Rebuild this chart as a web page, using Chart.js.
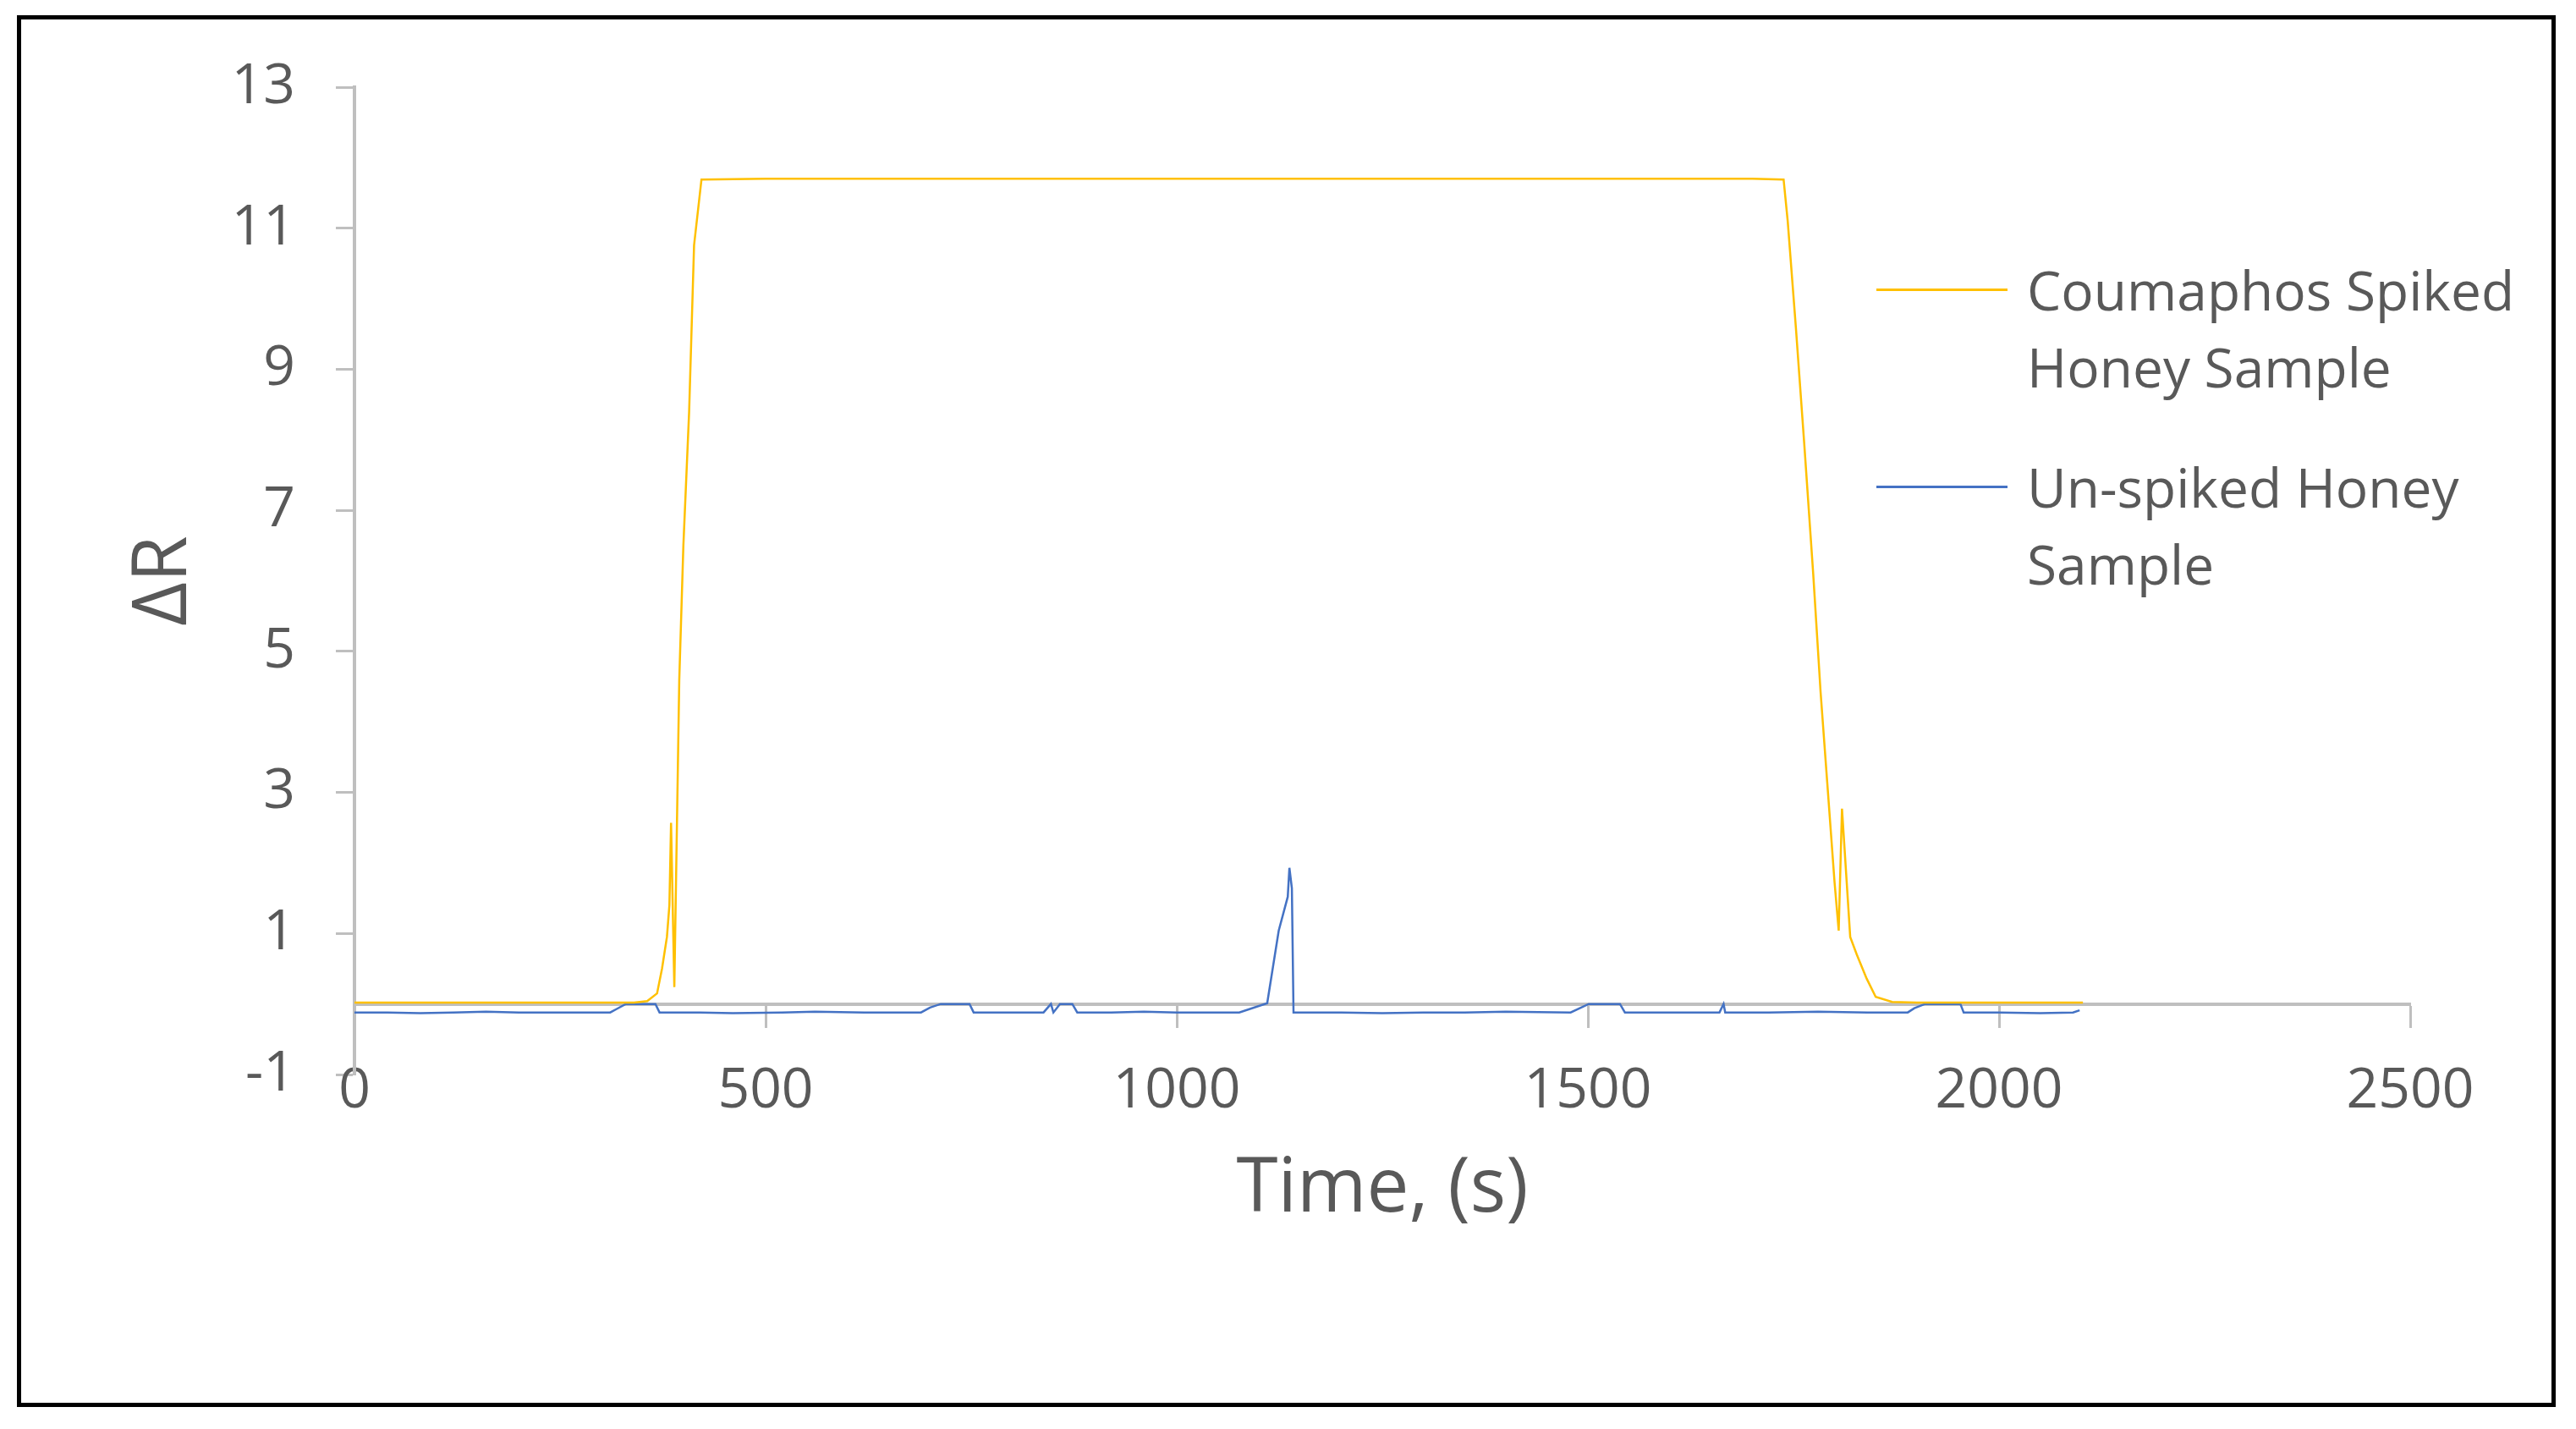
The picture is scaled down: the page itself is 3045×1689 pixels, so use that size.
<!DOCTYPE html>
<html>
<head>
<meta charset="utf-8">
<script src="https://cdn.jsdelivr.net/npm/chart.js@4.4.1/dist/chart.umd.min.js"></script>
<style>
  html, body { margin: 0; padding: 0; background: #fff; }
  #wrap { position: relative; width: 3045px; height: 1689px; }
  #frame { position: absolute; left: 20px; top: 18px; width: 3001px; height: 1645px;
           border: 5px solid #000; box-sizing: border-box; pointer-events: none; }
  #legend { position: absolute; left: 2218px; top: 0; font-family: 'Open Sans', sans-serif;
            font-size: 64px; color: #595959; }
  .swatch { position: absolute; left: 0; width: 155px; height: 3px; }
  .label { position: absolute; left: 178px; line-height: 91px; white-space: nowrap; }
</style>
</head>
<body>
<div id="wrap">
  <canvas id="chart" width="3045" height="1689"></canvas>
  <div id="legend"></div>
  <div id="frame"></div>
</div>
<script>
// ── Data ──────────────────────────────────────────────
const coumaphosTime = [0, 50, 100, 150, 200, 250, 300, 340, 356, 368, 374, 380, 383, 385, 389, 395, 400, 407, 413, 422,
  500, 700, 900, 1100, 1300, 1500, 1700, 1738, 1743, 1753, 1763, 1774, 1783, 1791, 1800, 1805, 1809, 1819, 1827,
  1839, 1850, 1870, 1900, 1950, 2000, 2050, 2102];
const coumaphosDR = [0.02, 0.02, 0.02, 0.02, 0.02, 0.02, 0.02, 0.02, 0.04, 0.15, 0.5, 0.95, 1.4, 2.57, 0.24, 4.6, 6.5, 8.4, 10.76, 11.69,
  11.7, 11.7, 11.7, 11.7, 11.7, 11.7, 11.7, 11.69, 11.1, 9.58, 7.96, 6.1, 4.42, 3.15, 1.72, 1.04, 2.77, 0.95, 0.7,
  0.36, 0.1, 0.03, 0.02, 0.02, 0.02, 0.02, 0.02];

const unspikedTime = [0, 40, 80, 120, 160, 200, 250, 311, 319, 330, 366, 371, 420, 460, 520, 560, 620, 689, 700, 713,
  748, 753, 800, 838, 847, 850, 858, 873, 879, 920, 960, 1000, 1040, 1076, 1110, 1124, 1135, 1137, 1140, 1142,
  1200, 1250, 1300, 1350, 1400, 1479, 1501, 1539, 1545, 1600, 1660, 1665, 1667, 1720, 1780, 1840, 1889, 1897,
  1910, 1953, 1957, 2000, 2050, 2090, 2098];
const unspikedDR = [-0.12, -0.12, -0.13, -0.12, -0.11, -0.12, -0.12, -0.12, -0.07, 0, 0, -0.12, -0.12, -0.13, -0.12, -0.11, -0.12, -0.12, -0.05, 0,
  0, -0.12, -0.12, -0.12, 0, -0.12, 0, 0, -0.12, -0.12, -0.11, -0.12, -0.12, -0.12, 0.01, 1.04, 1.52, 1.93, 1.64, -0.12,
  -0.12, -0.13, -0.12, -0.12, -0.11, -0.12, 0, 0, -0.12, -0.12, -0.12, 0, -0.12, -0.12, -0.11, -0.12, -0.12, -0.06,
  0, 0, -0.12, -0.12, -0.13, -0.12, -0.09];

const xTicks = [0, 500, 1000, 1500, 2000, 2500];
const yTicks = [-1, 1, 3, 5, 7, 9, 11, 13];

const seriesNames = ['Coumaphos Spiked Honey Sample', 'Un-spiked Honey Sample'];
const legendLines = [['Coumaphos Spiked', 'Honey Sample'], ['Un-spiked Honey', 'Sample']];
const seriesColors = ['#FFC000', '#4472C4'];

const AXIS_GREY = '#BFBFBF';
const TEXT_GREY = '#595959';

const toPoints = (xs, ys) => xs.map((x, i) => ({ x, y: ys[i] }));

Chart.defaults.font.family = "'Open Sans', sans-serif";
Chart.defaults.color = TEXT_GREY;

const datasets = [toPoints(coumaphosTime, coumaphosDR), toPoints(unspikedTime, unspikedDR)].map((data, i) => ({
  label: seriesNames[i],
  data,
  borderColor: seriesColors[i],
  backgroundColor: seriesColors[i],
  borderWidth: 2.5,
  pointRadius: 0,
  tension: 0,
}));

new Chart(document.getElementById('chart').getContext('2d'), {
  type: 'line',
  data: { datasets },
  options: {
    responsive: false,
    animation: false,
    layout: { padding: { top: 103, right: 196, bottom: 419, left: 0 } },
    plugins: { legend: { display: false }, tooltip: { enabled: false } },
    scales: {
      x: {
        type: 'linear',
        position: { y: 0 },   // axis line crosses at ΔR = 0
        min: 0, max: 2500,
        afterBuildTicks: s => { s.ticks = xTicks.map(value => ({ value })); },
        afterFit: s => { s.height = 423; },
        grid: { drawOnChartArea: false, color: AXIS_GREY, tickLength: 26, tickWidth: 3 },
        border: { color: AXIS_GREY, width: 4 },
        ticks: { font: { size: 66 }, padding: 38, maxRotation: 0, callback: v => String(v) },
        title: { display: true, text: 'Time, (s)', font: { size: 89 }, padding: { top: 0, bottom: 150 } },
      },
      y: {
        type: 'linear',
        min: -1, max: 13,
        afterBuildTicks: s => { s.ticks = yTicks.map(value => ({ value })); },
        afterFit: s => { s.width = 419; },
        grid: { drawOnChartArea: false, color: AXIS_GREY, tickLength: 22, tickWidth: 3 },
        border: { color: AXIS_GREY, width: 4 },
        ticks: { font: { size: 66 }, padding: 48, callback: v => String(v) },
        title: { display: true, text: 'ΔR', font: { size: 89 }, padding: { top: 141, bottom: 0 } },
      },
    },
  },
});

// ── Legend (sits inside the plot, like the original) ──
const legendTops = [342, 575];
document.getElementById('legend').innerHTML = legendLines.map((lines, i) => `
  <div class="swatch" style="top:${legendTops[i] - 1}px;background:${seriesColors[i]}"></div>
  <div class="label" style="top:${legendTops[i] - 45}px">${lines.join('<br>')}</div>
`).join('');
</script>
</body>
</html>
